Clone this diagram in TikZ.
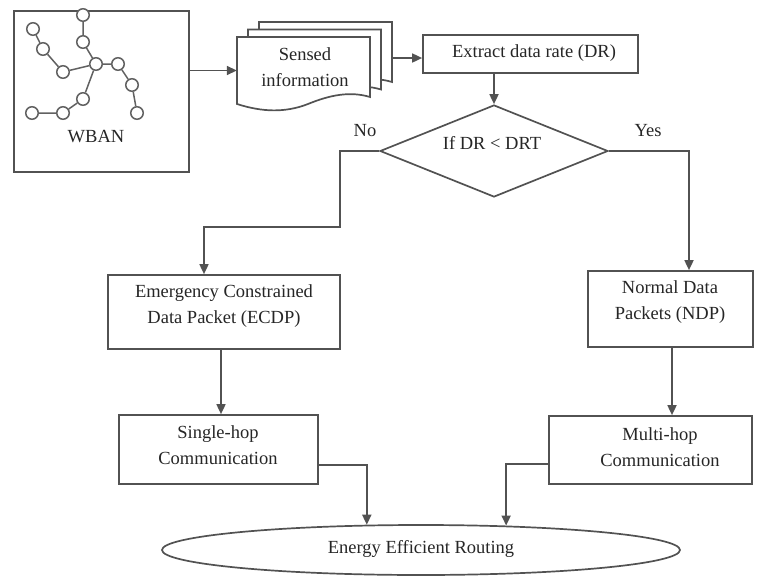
\documentclass[tikz,border=0pt]{standalone}
\usepackage{fontspec}
\setmainfont{Liberation Serif}
\usetikzlibrary{arrows.meta,shapes.geometric}
\begin{document}
\begin{tikzpicture}[x=1pt,y=-1pt,
  lc/.style={draw=black!68, line width=1.7pt},
  box/.style={lc, fill=white, rectangle, inner sep=0pt},
  txt/.style={text=black!85, font=\fontsize{18.5}{26}\selectfont, align=center, inner sep=0pt},
  arr/.style={lc, -{Triangle[length=10pt,width=9pt]}},
  netnode/.style={circle, draw=black!62, line width=1.5pt, fill=white, minimum size=12.5pt, inner sep=0pt},
  netedge/.style={draw=black!62, line width=1.5pt},
  docbox/.style={minimum width=133pt, minimum height=67pt, inner sep=0pt}]
\useasboundingbox (0,0) rectangle (764,576);

% WBAN box and network
\node[box, minimum width=175pt, minimum height=161pt] (wban) at (101.5,91.5) {};
\node[netnode] (n1) at (33,29) {};
\node[netnode] (n2) at (43,49) {};
\node[netnode] (n3) at (63,72) {};
\node[netnode] (n4) at (96,64) {};
\node[netnode] (n5) at (118,64) {};
\node[netnode] (n6) at (132,85) {};
\node[netnode] (n7) at (137,113) {};
\node[netnode] (n8) at (83,99) {};
\node[netnode] (n9) at (63,113) {};
\node[netnode] (n10) at (32,113) {};
\node[netnode] (n11) at (83,15) {};
\node[netnode] (n12) at (83,42) {};
\draw[netedge] (n1) -- (n2) -- (n3) -- (n4);
\draw[netedge] (n11) -- (n12) -- (n4);
\draw[netedge] (n4) -- (n5) -- (n6) -- (n7);
\draw[netedge] (n4) -- (n8) -- (n9) -- (n10);
\node[txt] (wbanlbl) at (96,137) {WBAN};

% document stack
\foreach \dx/\dy/\nm in {22/-15/docC, 11/-7.5/docB, 0/0/docA}{
  \begin{scope}[shift={(\dx,\dy)}]
    \draw[lc, fill=white] (237,37) -- (370,37) -- (370,97)
      .. controls (350,91) and (330,95) .. (308,104)
      .. controls (285,113) and (262,112) .. (237,104) -- cycle;
    \node[docbox] (\nm) at (303.5,70.5) {};
  \end{scope}
}
\node[txt] (sensed) at (305,67) {Sensed\\information};

% extract box
\node[box, minimum width=215pt, minimum height=38pt] (extract) at (530.5,54) {};
\node[txt] (extracttxt) at (534,53) {Extract data rate (DR)};

% decision
\node[lc, shape=diamond, minimum width=228pt, minimum height=92pt, inner sep=0pt] (dia) at (494,151) {};
\node[txt] (diatxt) at (492,143) {If DR < DRT};
\node[txt] (no) at (365,131) {No};
\node[txt] (yes) at (648,131) {Yes};

% second level boxes
\node[box, minimum width=232pt, minimum height=74pt] (ecdp) at (224,312) {};
\node[txt] (ecdptxt) at (224,306.5) {Emergency Constrained\\Data Packet (ECDP)};
\node[box, minimum width=165pt, minimum height=76pt] (ndp) at (670.5,309) {};
\node[txt] (ndptxt) at (670,302) {Normal Data\\Packets (NDP)};

% third level boxes
\node[box, minimum width=199pt, minimum height=69pt] (single) at (218.5,449.5) {};
\node[txt] (singletxt) at (218,445.5) {Single-hop\\Communication};
\node[box, minimum width=203pt, minimum height=68pt] (multi) at (650.5,450) {};
\node[txt] (multitxt) at (660,447.5) {Multi-hop\\Communication};

% ellipse
\node[lc, shape=ellipse, minimum width=518pt, minimum height=50pt, inner sep=0pt] (ell) at (421,550) {};
\node[txt] (elltxt) at (421,549) {Energy Efficient Routing};

% connectors
\coordinate (nA) at (340,227);
\draw[arr] (wban.east |- docA.west) -- (docA.west);
\draw[arr] ([yshift=-2.5pt]docC.east) -- ([yshift=-2.5pt]docC.east -| extract.west);
\draw[arr] (extract.south -| dia.north) -- (dia.north);
\draw[arr] (dia.west) -| (nA) -| ([xshift=-20pt]ecdp.north);
\draw[arr] (dia.east) -| ([xshift=18.5pt]ndp.north);
\draw[arr] ([xshift=-3pt]ecdp.south) -- ([xshift=-3pt]ecdp.south |- single.north);
\draw[arr] ([xshift=1.5pt]ndp.south) -- ([xshift=1.5pt]ndp.south |- multi.north);
\draw[arr] ([yshift=-15.5pt]single.east) -| (ell.155);
\draw[arr] ([yshift=-14pt]multi.west) -| (ell.16);
\end{tikzpicture}
\end{document}
